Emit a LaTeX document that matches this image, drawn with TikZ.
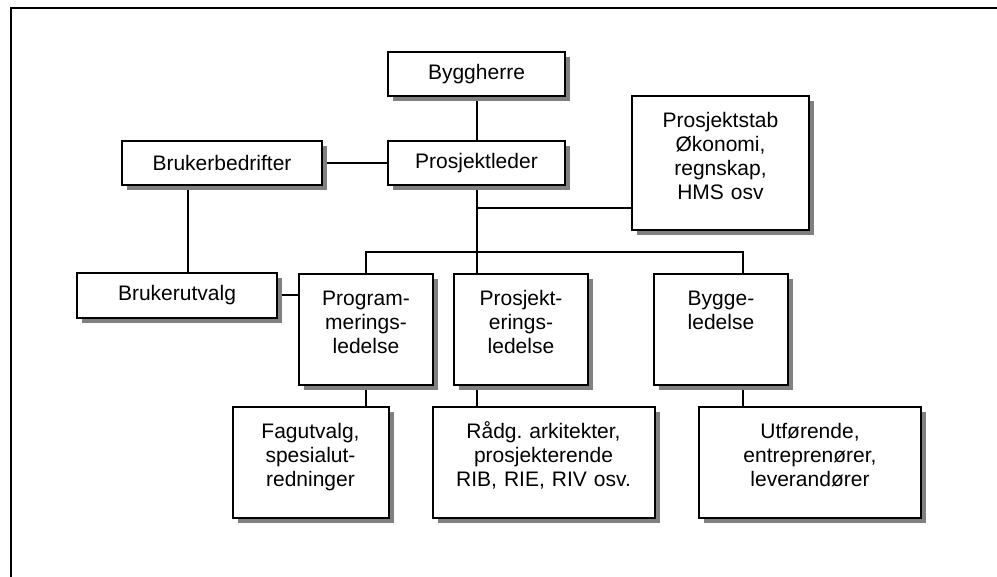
\documentclass[tikz,border=0pt]{standalone}
\usepackage{fontspec}
\setmainfont{Liberation Sans}
\usetikzlibrary{shadows,backgrounds}
\definecolor{OrgShade}{HTML}{808080}
\frenchspacing

\begin{document}
\begin{tikzpicture}[
      x=0.5pt,y=-0.5pt,
      conn/.style={line width=1pt,draw=black},
      orgbox/.style={draw=black,fill=white,line width=1pt,inner xsep=0pt,
        align=center,font=\fontsize{10.5}{12}\selectfont,
        drop shadow={shadow xshift=2.5pt,shadow yshift=-2.5pt,fill=OrgShade,opacity=1}},
      flat/.style 2 args={orgbox,minimum width=#1,minimum height=#2},
      tall/.style 2 args={orgbox,anchor=north,text width=#1,inner ysep=4pt,
        text height=12pt,text depth=#2}
    ]
    \path[use as bounding box] (0,0) rectangle (997,577);
    \draw[line width=1.25pt] (11,577) -- (11,8) -- (997,8);

    % top of the organisation
    \node[flat={88.5pt}{22pt}] (bygg) at (476.5,74) {Byggherre};
    \node[flat={88.5pt}{22pt}] (leder) at (476.5,163) {Prosjektleder};
    \node[flat={100pt}{22pt}] (bedr) at (222,163) {Brukerbedrifter};
    \node[tall={88.5pt}{47pt}] (stab) at (720.5,95)
      {Prosjektstab\\Økonomi,\\regnskap,\\HMS osv};

    % second level
    \node[flat={100pt}{22.5pt}] (utvalg) at (177,295.5) {Brukerutvalg};
    \node[tall={67pt}{35.5pt}] (prog) at (366,273) {Program-\\merings-\\ledelse};
    \node[tall={67pt}{35.5pt}] (prosj) at (521,273) {Prosjekt-\\erings-\\ledelse};
    \node[tall={67pt}{35.5pt}] (bygge) at (721,273) {Bygge-\\ledelse};

    % third level
    \node[tall={78pt}{35.5pt}] (fag) at (310.5,406) {Fagutvalg,\\spesialut-\\redninger};
    \node[tall={111pt}{35.5pt}] (radg) at (543.5,406)
      {Rådg. arkitekter,\\prosjekterende\\RIB, RIE, RIV osv.};
    \node[tall={111pt}{35.5pt}] (utf) at (810,406)
      {Utførende,\\entreprenører,\\leverandører};

    \coordinate (bus) at (476.5,252);

    \begin{scope}[on background layer]
      \draw[conn] (bygg) -- (leder);
      \draw[conn] (bedr) -- (leder);
      \draw[conn] (leder.south) -- (leder.south |- prosj.north);
      \draw[conn] ([yshift=-22.5pt]stab.west) -| (leder.south);
      \draw[conn] (prog.north) |- (bus) -| ([xshift=11pt]bygge.north);
      \draw[conn] ([xshift=-17pt]bedr.south) -- ([xshift=-17pt]bedr.south |- utvalg.north);
      \draw[conn] (utvalg.east) -- (utvalg.east -| prog.west);
      \draw[conn] (prog.south) -- (prog.south |- fag.north);
      \draw[conn] (prosj.south -| leder.south) -- (leder.south |- radg.north);
      \draw[conn] ([xshift=11pt]bygge.south) -- ([xshift=11pt]bygge.south |- utf.north);
    \end{scope}
  \end{tikzpicture}
\end{document}
